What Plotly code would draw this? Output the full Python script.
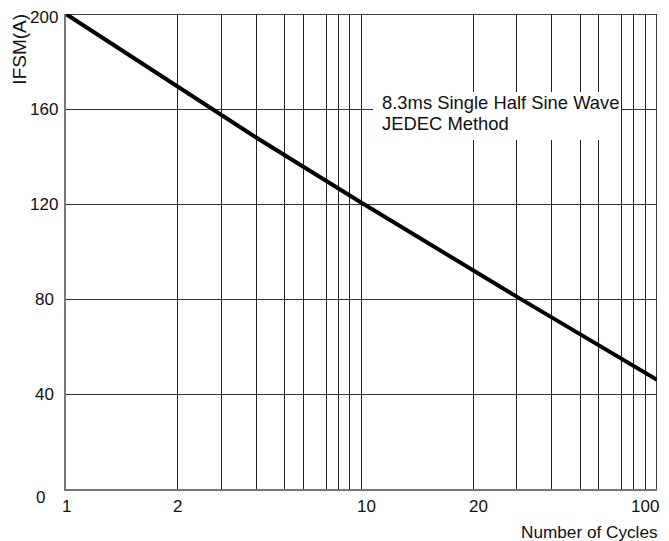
import math
import plotly.graph_objects as go

# ---- data ----
cycles = [1, 2.39, 4.4, 10, 33.5, 100]
ifsm = [200, 169.5, 148, 120.5, 81, 46]

# vertical grid positions (as drawn in the reference) and their labels
grid_cycles = [1, 2.39, 3.35, 4.4, 5.5, 6.35, 7.6, 8.33, 9.13,
               10, 23.9, 33.5, 44, 55, 63.5, 76, 83.3, 91.3, 100]
grid_labels = ["1", "2", "", "", "", "", "", "", "",
               "10", "20", "", "", "", "", "", "", "", "100"]

y_ticks = [0, 40, 80, 120, 160, 200]
y_labels = ["0", "40", "80", "120", "160", "200"]

note_lines = ["8.3ms Single Half Sine Wave", "JEDEC Method"]
x_title = "Number of Cycles"
y_title = "IFSM(A)"

FONT = "Liberation Sans, Arial, Helvetica, sans-serif"

fig = go.Figure()
fig.add_trace(go.Scatter(
    x=cycles, y=ifsm, mode="lines",
    line=dict(color="black", width=4),
    hoverinfo="skip", showlegend=False,
))

# page body has an 8px margin, so the figure is offset to match the window
fig.update_layout(
    width=661, height=533,
    margin=dict(l=58, r=12, t=6, b=52),
    paper_bgcolor="white", plot_bgcolor="white",
    font=dict(family=FONT, size=17, color="#111"),
    showlegend=False,
)

fig.update_xaxes(
    type="log", range=[0, 2],
    tickmode="array", tickvals=grid_cycles, showticklabels=False,
    showgrid=True, gridcolor="#222", gridwidth=1,
    showline=True, linecolor="#777", linewidth=1.5,
    ticks="", zeroline=False,
)
fig.update_yaxes(
    range=[0, 200],
    tickmode="array", tickvals=y_ticks, showticklabels=False,
    showgrid=True, gridcolor="#333", gridwidth=1,
    showline=True, linecolor="#777", linewidth=1.5,
    ticks="", zeroline=False,
)

ann = []
# y tick labels
for v, t in zip(y_ticks, y_labels):
    if v == 0:
        ann.append(dict(x=0, xref="paper", y=v, yref="y", text=t,
                        showarrow=False, xanchor="center", yanchor="middle",
                        xshift=-26, yshift=-8, font=dict(size=17)))
    else:
        ann.append(dict(x=0, xref="paper", y=v, yref="y", text=t,
                        showarrow=False, xanchor="center", yanchor="middle",
                        xshift=-22, yshift=(-3 if v == y_ticks[-1] else 0),
                        font=dict(size=17)))

# x tick labels (annotation x on a log axis is given in log10 units)
for v, t in zip(grid_cycles, grid_labels):
    if not t:
        continue
    if v == grid_cycles[-1]:
        anchor, shift = "right", 4
    elif len(t) == 2:
        anchor, shift = "center", 5
    else:
        anchor, shift = "center", 0
    ann.append(dict(x=math.log10(v), xref="x", y=0, yref="paper", text=t,
                    showarrow=False, xanchor=anchor, yanchor="middle",
                    xshift=shift, yshift=-17, font=dict(size=17)))

ann.append(dict(x=0, xref="paper", y=0.925, yref="paper", text=y_title,
                showarrow=False, textangle=-90, xanchor="center",
                yanchor="middle", xshift=-46, font=dict(size=19)))
ann.append(dict(x=1.0051, xref="paper", y=0, yref="paper", text=x_title,
                showarrow=False, xanchor="right", yanchor="middle",
                yshift=-43, font=dict(size=17.2)))
ann.append(dict(x=0.531, xref="paper", y=0.8145, yref="paper", text=note_lines[0],
                showarrow=False, xanchor="left", yanchor="middle",
                font=dict(size=18.4)))
ann.append(dict(x=0.531, xref="paper", y=0.7705, yref="paper", text=note_lines[1],
                showarrow=False, xanchor="left", yanchor="middle",
                font=dict(size=18.4)))
fig.update_layout(annotations=ann)

# top frame and right frame (grid lines at the range ends)
fig.add_shape(type="line", xref="paper", yref="y", x0=0, x1=1,
              y0=y_ticks[-1], y1=y_ticks[-1],
              line=dict(color="black", width=1.5), layer="below")
fig.add_shape(type="line", xref="x", yref="paper",
              x0=grid_cycles[-1], x1=grid_cycles[-1], y0=0, y1=1,
              line=dict(color="black", width=1.5), layer="below")

# white note box that hides the grid behind the text
fig.add_shape(type="rect", xref="paper", yref="paper",
              x0=0.5195, x1=0.939, y0=0.7347, y1=0.8358,
              fillcolor="white", line=dict(width=0), layer="above")

fig.write_html("out.html")
